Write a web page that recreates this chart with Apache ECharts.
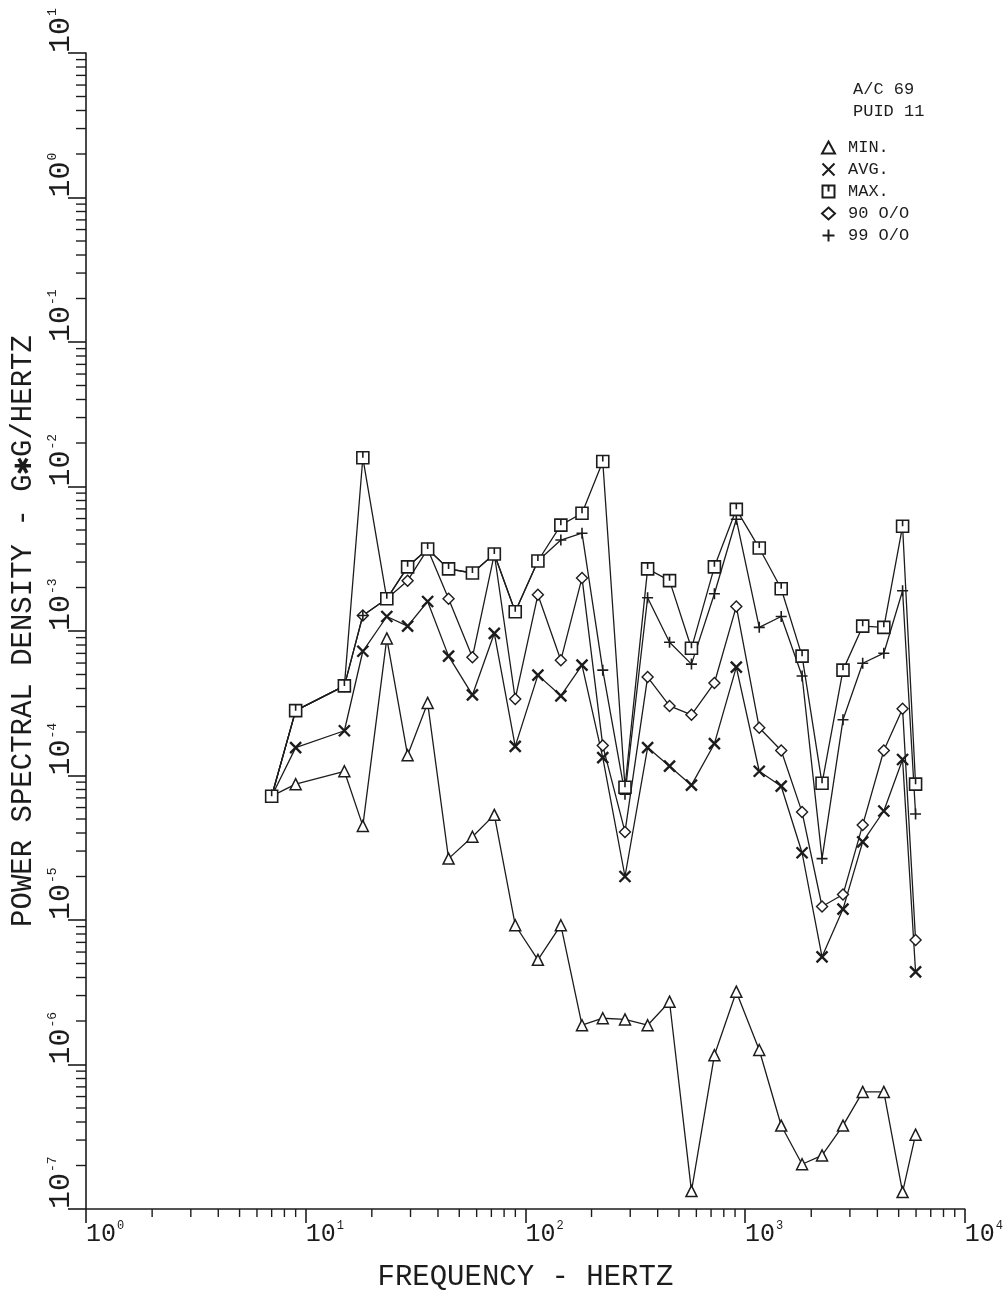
<!DOCTYPE html>
<html>
<head>
<meta charset="utf-8">
<script src="https://cdn.jsdelivr.net/npm/echarts@6/dist/echarts.min.js"></script>
<style>
html,body{margin:0;padding:0;background:#fff;}
#chart{width:1006px;height:1297px;}
</style>
</head>
<body>
<div id="chart"></div>
<script>
// Frequencies (Hz)
const freqs = [7, 9, 15, 18.2, 23.4, 29.1, 35.9, 44.7, 57.4, 72.2, 89.9, 114, 145, 181, 225, 284, 360, 453, 570, 725, 912, 1160, 1460, 1817, 2240, 2790, 3430, 4280, 5210, 5970];
// PSD values (G*G/Hz)
const minVals = [7.19e-5, 8.71e-5, 1.07e-4, 4.48e-5, 8.89e-4, 1.38e-4, 3.18e-4, 2.66e-5, 3.77e-5, 5.34e-5, 9.2e-6, 5.3e-6, 9.2e-6, 1.87e-6, 2.09e-6, 2.05e-6, 1.87e-6, 2.72e-6, 1.33e-7, 1.16e-6, 3.19e-6, 1.26e-6, 3.78e-7, 2.04e-7, 2.35e-7, 3.78e-7, 6.46e-7, 6.46e-7, 1.31e-7, 3.27e-7];
const avgVals = [7.19e-5, 1.56e-4, 2.04e-4, 7.24e-4, 1.26e-3, 1.08e-3, 1.6e-3, 6.7e-4, 3.61e-4, 9.64e-4, 1.59e-4, 4.95e-4, 3.56e-4, 5.81e-4, 1.33e-4, 2.0e-5, 1.56e-4, 1.16e-4, 8.57e-5, 1.66e-4, 5.62e-4, 1.07e-4, 8.43e-5, 2.92e-5, 5.56e-6, 1.19e-5, 3.47e-5, 5.68e-5, 1.29e-4, 4.37e-6];
const maxVals = [7.19e-5, 2.81e-4, 4.17e-4, 1.58e-2, 1.67e-3, 2.78e-3, 3.69e-3, 2.69e-3, 2.52e-3, 3.41e-3, 1.36e-3, 3.05e-3, 5.4e-3, 6.53e-3, 1.49e-2, 8.3e-5, 2.69e-3, 2.23e-3, 7.59e-4, 2.78e-3, 6.95e-3, 3.75e-3, 1.96e-3, 6.7e-4, 8.83e-5, 5.36e-4, 1.08e-3, 1.06e-3, 5.31e-3, 8.71e-5];
const p90Vals = [7.19e-5, 2.81e-4, 4.17e-4, 1.28e-3, 1.67e-3, 2.23e-3, 3.69e-3, 1.67e-3, 6.59e-4, 3.41e-3, 3.39e-4, 1.78e-3, 6.28e-4, 2.33e-3, 1.61e-4, 4.07e-5, 4.8e-4, 3.03e-4, 2.63e-4, 4.37e-4, 1.48e-3, 2.14e-4, 1.49e-4, 5.58e-5, 1.24e-5, 1.5e-5, 4.55e-5, 1.49e-4, 2.9e-4, 7.26e-6];
const p99Vals = [7.19e-5, 2.81e-4, 4.17e-4, 1.28e-3, 1.67e-3, 2.78e-3, 3.69e-3, 2.69e-3, 2.52e-3, 3.41e-3, 1.36e-3, 3.05e-3, 4.26e-3, 4.75e-3, 5.36e-4, 7.43e-5, 1.7e-3, 8.36e-4, 5.9e-4, 1.81e-3, 5.93e-3, 1.06e-3, 1.26e-3, 4.88e-4, 2.66e-5, 2.43e-4, 5.98e-4, 7.02e-4, 1.9e-3, 5.42e-5];
const seriesNames = ['MIN.', 'AVG.', 'MAX.', '90 O/O', '99 O/O'];
const infoLines = ['A/C 69', 'PUID 11'];
const xTitle = 'FREQUENCY - HERTZ';
const yTitle = 'POWER SPECTRAL DENSITY - G\u2731G/HERTZ';

// minor tick positions (2..9 within each decade)
const xMinor = [];
for (let d = 1; d <= 1000; d *= 10) for (let k = 2; k <= 9; k++) xMinor.push([k * d, 1e-7]);
const yMinor = [];
for (let e = -7; e <= 0; e++) for (let k = 2; k <= 9; k++) yMinor.push([1, k * Math.pow(10, e)]);

const INK = '#1c1c1c';
const FONT = '"Liberation Mono", "DejaVu Sans Mono", monospace';

const SYM = {
  tri: 'triangle',
  x: 'path://M0,0L10,10M10,0L0,10',
  sq: 'path://M0,0H10V10H0Z M5,0V5',
  dia: 'diamond',
  plus: 'path://M5,0V10M0,5H10'
};

function pairs(vals) { return freqs.map((f, i) => [f, vals[i]]); }

function lineSeries(name, vals, symbol, size, fill, bw) {
  return {
    name: name, type: 'line', data: pairs(vals),
    symbol: symbol, symbolSize: size, showAllSymbol: true,
    lineStyle: { color: INK, width: 1.3 },
    itemStyle: { color: fill, borderColor: INK, borderWidth: bw },
    emphasis: { disabled: true }, animation: false, z: 3
  };
}

function expLabel(v) {
  const e = Math.round(Math.log10(v));
  return '{b|10}{e|' + e + '}';
}

const chart = echarts.init(document.getElementById('chart'), null, { renderer: 'canvas' });
chart.setOption({
  backgroundColor: '#ffffff',
  animation: false,
  grid: { left: 86, right: 39, top: 53, bottom: 79, containLabel: false },
  title: {
    text: infoLines.join('\n'), left: 848, top: 73,
    textStyle: { fontFamily: FONT, fontSize: 17, fontWeight: 'normal', color: INK, lineHeight: 22 }
  },
  legend: {
    orient: 'vertical', left: 815, top: 134, itemWidth: 13, itemHeight: 12, itemGap: 5,
    selectedMode: false,
    textStyle: { fontFamily: FONT, fontSize: 17, color: INK, padding: [0, 0, 0, 8] },
    data: [
      { name: seriesNames[0], icon: SYM.tri },
      { name: seriesNames[1], icon: SYM.x },
      { name: seriesNames[2], icon: SYM.sq },
      { name: seriesNames[3], icon: SYM.dia },
      { name: seriesNames[4], icon: SYM.plus }
    ]
  },
  xAxis: {
    type: 'log', logBase: 10, min: 1, max: 10000, splitNumber: 4,
    name: xTitle, nameLocation: 'middle', nameGap: 54,
    nameTextStyle: { fontFamily: FONT, fontSize: 29, color: INK },
    axisLine: { lineStyle: { color: INK, width: 1.6 } },
    axisTick: { length: 14, lineStyle: { color: INK, width: 1.6 } },
    splitLine: { show: false },
    axisLabel: {
      formatter: expLabel, align: 'left', margin: 11, showMaxLabel: true, showMinLabel: true,
      rich: {
        b: { fontFamily: FONT, fontSize: 25, color: INK, lineHeight: 28 },
        e: { fontFamily: FONT, fontSize: 12, color: INK, verticalAlign: 'top', lineHeight: 28, padding: [0, 0, 12, 1] }
      }
    }
  },
  yAxis: {
    type: 'log', logBase: 10, min: 1e-7, max: 10, splitNumber: 8,
    name: yTitle, nameLocation: 'middle', nameGap: 46, nameRotate: 90,
    nameTextStyle: { fontFamily: FONT, fontSize: 29, color: INK },
    axisLine: { lineStyle: { color: INK, width: 1.6 } },
    axisTick: { length: 18, lineStyle: { color: INK, width: 1.6 } },
    splitLine: { show: false },
    axisLabel: {
      formatter: expLabel, rotate: 90, align: 'left', verticalAlign: 'bottom', margin: 10,
      showMaxLabel: true, showMinLabel: true,
      rich: {
        b: { fontFamily: FONT, fontSize: 30, color: INK, lineHeight: 30 },
        e: { fontFamily: FONT, fontSize: 13, color: INK, verticalAlign: 'top', lineHeight: 30, padding: [0, 0, 14, 1] }
      }
    }
  },
  series: [
    {
      type: 'custom', name: 'xminor', data: xMinor, clip: false, silent: true, z: 1,
      renderItem: function (params, api) {
        const p = api.coord([api.value(0), api.value(1)]);
        return { type: 'line', shape: { x1: p[0], y1: p[1], x2: p[0], y2: p[1] + 8 }, style: { stroke: INK, lineWidth: 1.4 } };
      }
    },
    {
      type: 'custom', name: 'yminor', data: yMinor, clip: false, silent: true, z: 1,
      renderItem: function (params, api) {
        const p = api.coord([api.value(0), api.value(1)]);
        return { type: 'line', shape: { x1: p[0] - 10, y1: p[1], x2: p[0], y2: p[1] }, style: { stroke: INK, lineWidth: 1.4 } };
      }
    },
    lineSeries(seriesNames[0], minVals, SYM.tri, 11, '#fff', 1.5),
    lineSeries(seriesNames[1], avgVals, SYM.x, 11, 'none', 2.4),
    lineSeries(seriesNames[3], p90Vals, SYM.dia, 11, '#fff', 1.4),
    lineSeries(seriesNames[4], p99Vals, SYM.plus, 11, 'none', 1.6),
    lineSeries(seriesNames[2], maxVals, SYM.sq, 12, '#fff', 1.6)
  ]
});
</script>
</body>
</html>
